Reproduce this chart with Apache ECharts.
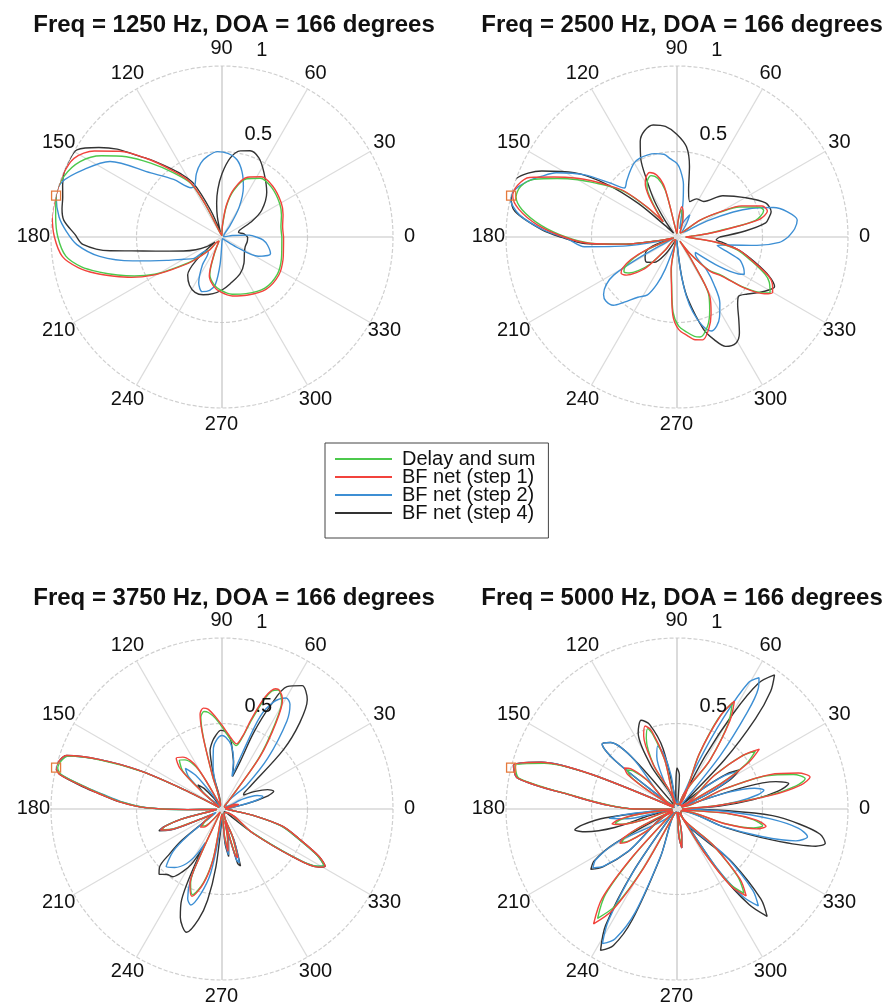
<!DOCTYPE html>
<html><head><meta charset="utf-8">
<script src="https://cdn.jsdelivr.net/npm/echarts@6/dist/echarts.min.js"></script>
<style>html,body{margin:0;padding:0;background:#fff}#c{width:888px;height:1008px}</style>
</head><body><div id="c"></div>
<script>
const seriesNames = ['Delay and sum','BF net (step 1)','BF net (step 2)','BF net (step 4)'];
const seriesColors = ['#4cc94c','#f2433c','#3d8fd4','#333333'];
const titles = ['Freq = 1250 Hz, DOA = 166 degrees','Freq = 2500 Hz, DOA = 166 degrees','Freq = 3750 Hz, DOA = 166 degrees','Freq = 5000 Hz, DOA = 166 degrees'];
const angleTicks = [0,30,60,90,120,150,180,210,240,270,300,330];
const radiusTicks = [0.5, 1];
const radiusTickLabels = ['0.5','1'];
const doaAngle = 166;

// [angle (deg), magnitude]
const c1Green = [[0,0.35],[10,0.35],[20,0.37],[30,0.39],[45,0.41],[57,0.41],[67,0.37],[76,0.28],[82,0.18],[88,0.06],[95,0.01],[105,0.01],[114,0.03],[117,0.2],[120,0.36],[127,0.47],[134,0.6],[140,0.73],[146,0.85],[152,0.94],[159,0.99],[166,1.0],[173,0.98],[180,0.96],[187,0.92],[192,0.84],[196,0.745],[200,0.65],[204,0.56],[209,0.45],[213,0.34],[219,0.22],[226,0.1],[233,0.03],[240,0.03],[245,0.1],[252,0.23],[260,0.28],[268,0.31],[280,0.34],[293,0.36],[310,0.39],[326,0.39],[340,0.37],[350,0.355],[360,0.35]];
const c1Red = [[0,0.36],[10,0.36],[20,0.38],[30,0.4],[45,0.42],[57,0.42],[67,0.38],[76,0.29],[82,0.19],[88,0.07],[95,0.01],[105,0.01],[114,0.03],[117,0.21],[120,0.37],[127,0.49],[134,0.64],[140,0.78],[146,0.9],[152,0.98],[159,1.0],[166,1.0],[173,1.0],[180,0.98],[187,0.94],[192,0.86],[196,0.77],[200,0.67],[204,0.58],[209,0.46],[213,0.35],[219,0.23],[226,0.11],[233,0.03],[240,0.03],[245,0.11],[252,0.24],[260,0.29],[268,0.32],[280,0.35],[293,0.37],[310,0.4],[326,0.4],[340,0.38],[350,0.365],[360,0.36]];
const c1Blue = [[0,0.2],[4,0.16],[8,0.06],[12,0.01],[30,0.01],[50,0.02],[55,0.08],[60,0.2],[67,0.32],[73,0.4],[79,0.46],[86,0.49],[93,0.5],[100,0.48],[106,0.45],[112,0.4],[118,0.34],[122,0.34],[130,0.44],[138,0.56],[146,0.79],[154,0.9],[161,0.99],[166,1.0],[173,0.96],[178,0.91],[183,0.85],[189,0.725],[195,0.54],[203,0.35],[210,0.26],[217,0.21],[222,0.12],[228,0.12],[235,0.2],[243,0.3],[250,0.34],[257,0.32],[262,0.28],[266,0.16],[272,0.02],[290,0.01],[305,0.01],[310,0.02],[325,0.1],[332,0.24],[341,0.3],[350,0.27],[356,0.24],[360,0.2]];
const c1Black = [[0,0.15],[8,0.13],[15,0.1],[21,0.11],[28,0.2],[34,0.28],[45,0.37],[57,0.45],[65,0.51],[72,0.53],[78,0.515],[84,0.465],[90,0.37],[95,0.28],[99,0.2],[103,0.12],[108,0.03],[113,0.17],[118,0.355],[123,0.44],[128,0.52],[133,0.62],[137,0.71],[140,0.8],[144,0.89],[149,0.99],[153,1.0],[157,1.0],[162,0.98],[166,0.96],[170,0.95],[174,0.93],[179,0.86],[183,0.815],[187,0.66],[190,0.47],[195,0.32],[200,0.24],[206,0.17],[212,0.11],[216,0.05],[222,0.2],[228,0.3],[236,0.34],[244,0.36],[252,0.355],[261,0.335],[270,0.31],[280,0.277],[296,0.24],[310,0.2],[325,0.16],[337,0.147],[350,0.15],[360,0.15]];

const c2Green = [[0,0.05],[3,0.08],[6,0.17],[9,0.28],[12,0.47],[17,0.53],[20,0.51],[25.7,0.405],[30,0.29],[36,0.166],[40,0.05],[50,0.03],[60,0.04],[70,0.09],[76,0.13],[81,0.16],[86,0.09],[92,0.02],[100,0.05],[104,0.28],[108,0.36],[113,0.39],[118,0.37],[121,0.34],[125,0.26],[129,0.17],[132,0.12],[135,0.24],[139,0.4],[143,0.49],[146,0.56],[150,0.67],[154,0.78],[158,0.9],[162,0.96],[166,0.97],[170,0.92],[175,0.8],[180,0.65],[184,0.51],[188,0.3],[191,0.12],[195,0.02],[200,0.05],[203,0.19],[206,0.28],[210,0.35],[213,0.37],[217,0.35],[221,0.3],[225,0.23],[228,0.1],[232,0.02],[245,0.02],[255,0.05],[260,0.19],[263,0.26],[267,0.44],[271,0.52],[276,0.56],[280,0.59],[283,0.6],[289,0.55],[294,0.47],[299,0.38],[302,0.17],[305,0.03],[308,0.12],[314,0.27],[319,0.34],[323,0.49],[327,0.6],[329,0.635],[334,0.6],[337,0.56],[342,0.46],[348,0.36],[352,0.24],[356,0.1],[360,0.05]];
const c2Red = [[0,0.05],[3,0.08],[6,0.18],[9,0.3],[12,0.49],[16,0.55],[20,0.53],[25.7,0.42],[30,0.3],[36,0.17],[40,0.05],[50,0.03],[60,0.04],[70,0.1],[76,0.15],[81,0.18],[86,0.1],[92,0.02],[100,0.05],[104,0.3],[108,0.38],[113,0.41],[118,0.39],[121,0.36],[125,0.28],[129,0.18],[132,0.12],[135,0.25],[139,0.41],[143,0.5],[146,0.58],[150,0.69],[154,0.8],[158,0.93],[162,0.98],[166,0.99],[170,0.94],[175,0.82],[180,0.66],[184,0.52],[188,0.3],[191,0.12],[195,0.02],[200,0.05],[203,0.2],[206,0.3],[210,0.37],[213,0.39],[217,0.37],[221,0.32],[225,0.25],[228,0.1],[232,0.02],[245,0.02],[255,0.05],[260,0.2],[263,0.27],[267,0.46],[271,0.54],[276,0.58],[280,0.61],[284,0.62],[289,0.57],[294,0.49],[299,0.395],[302,0.18],[305,0.03],[308,0.12],[314,0.28],[319,0.35],[323,0.5],[327,0.61],[330,0.646],[334,0.62],[337,0.58],[342,0.47],[348,0.37],[352,0.25],[356,0.1],[360,0.05]];
const c2Blue = [[0,0.65],[4,0.69],[8,0.71],[13,0.66],[17,0.59],[21,0.47],[24,0.36],[28,0.2],[33,0.06],[45,0.04],[55,0.1],[60,0.15],[66,0.1],[72,0.05],[77,0.1],[80,0.2],[83,0.31],[87,0.39],[90,0.43],[95,0.46],[99,0.49],[105,0.505],[110,0.51],[115,0.51],[120,0.5],[126,0.47],[132,0.44],[137,0.42],[141,0.5],[146,0.65],[152,0.8],[156,0.87],[160,0.94],[164,0.99],[167,1.0],[172,0.93],[177,0.78],[181,0.64],[186,0.545],[190,0.3],[194,0.1],[199,0.02],[205,0.05],[209,0.27],[211,0.43],[214,0.5],[218,0.545],[222,0.56],[227,0.546],[231,0.49],[237,0.42],[243,0.38],[247,0.3],[250,0.2],[254,0.05],[265,0.02],[272,0.05],[276,0.2],[279,0.35],[282,0.45],[286,0.54],[290,0.585],[294,0.57],[298,0.53],[303,0.46],[308,0.35],[312,0.26],[316,0.15],[320,0.14],[325,0.3],[329,0.42],[331,0.45],[335,0.43],[340,0.39],[344,0.3],[348,0.24],[351,0.3],[354,0.47],[357,0.6],[360,0.65]];
const c2Black = [[0,0.25],[5,0.4],[9,0.525],[12,0.55],[15,0.57],[21,0.555],[30,0.46],[42,0.36],[53,0.26],[63,0.25],[70,0.22],[76,0.28],[80,0.42],[84,0.53],[90,0.6],[96,0.65],[102,0.67],[107,0.65],[111,0.6],[115,0.5],[118,0.375],[122,0.25],[126,0.12],[131,0.03],[136,0.1],[139,0.3],[143,0.51],[148,0.71],[154,0.88],[160,1.0],[166,1.0],[171,0.96],[177,0.79],[180,0.68],[184,0.54],[188,0.3],[191,0.12],[195,0.03],[200,0.15],[205,0.2],[212,0.22],[220,0.23],[228,0.2],[236,0.12],[245,0.03],[260,0.02],[270,0.03],[274,0.1],[277,0.25],[280,0.37],[286,0.56],[290,0.64],[294,0.7],[299,0.71],[303,0.67],[307,0.6],[312,0.53],[316,0.5],[321,0.53],[326,0.58],[330,0.62],[333,0.64],[337,0.585],[342,0.48],[348,0.37],[353,0.27],[356,0.23],[360,0.25]];

const c3Green = [[0,0.02],[10,0.03],[15,0.09],[20,0.07],[25,0.02],[45,0.02],[50,0.05],[54,0.36],[58,0.58],[61,0.72],[64.7,0.77],[67,0.75],[69,0.68],[72,0.53],[74,0.44],[77.4,0.38],[83,0.41],[90,0.48],[94,0.53],[98,0.57],[100.5,0.58],[103,0.55],[104.6,0.43],[106,0.2],[108,0.03],[117,0.02],[121,0.27],[127,0.36],[131,0.38],[136,0.32],[139,0.16],[143,0.03],[151,0.02],[153,0.25],[155,0.52],[158,0.76],[161,0.95],[166,0.99],[168,0.96],[171,0.8],[173,0.71],[176,0.59],[179,0.44],[181,0.2],[184,0.03],[190,0.05],[194,0.24],[197,0.35],[199,0.37],[202,0.31],[205,0.14],[210,0.06],[215,0.11],[220,0.155],[225,0.14],[230,0.08],[236,0.02],[243,0.03],[245,0.29],[247,0.47],[251,0.53],[256,0.44],[260,0.29],[264,0.05],[272,0.03],[275,0.15],[278,0.24],[281,0.16],[283.5,0.07],[286,0.27],[288,0.29],[291,0.16],[294,0.03],[318,0.03],[322,0.22],[326,0.49],[329,0.65],[331,0.68],[334,0.62],[339,0.47],[344,0.36],[348,0.2],[353,0.05],[360,0.02]];
const c3Red = [[0,0.02],[10,0.03],[15,0.1],[20,0.08],[25,0.02],[45,0.02],[50,0.05],[54,0.38],[58,0.6],[61,0.73],[64,0.77],[66,0.77],[69,0.7],[72,0.55],[74,0.45],[77.4,0.39],[83,0.42],[90,0.49],[94,0.54],[98,0.59],[100.5,0.6],[103,0.57],[104.6,0.45],[106,0.2],[108,0.03],[117,0.02],[121,0.29],[127,0.38],[132,0.4],[136,0.34],[139,0.17],[143,0.03],[151,0.02],[153,0.25],[155,0.53],[158,0.77],[161,0.96],[166,1.0],[168,0.97],[171,0.81],[173,0.72],[176,0.6],[179,0.45],[181,0.2],[184,0.03],[190,0.05],[194,0.24],[197,0.35],[199,0.38],[202,0.32],[205,0.14],[210,0.06],[215,0.12],[220,0.165],[225,0.15],[230,0.08],[236,0.02],[243,0.03],[245,0.3],[247,0.48],[251,0.54],[256,0.45],[260,0.3],[264,0.05],[272,0.03],[275,0.15],[278,0.25],[281,0.17],[283.5,0.07],[286,0.28],[288,0.3],[291,0.17],[294,0.03],[318,0.03],[322,0.23],[326,0.5],[329,0.66],[331,0.69],[334,0.63],[339,0.48],[344,0.37],[348,0.2],[353,0.05],[360,0.02]];
const c3Blue = [[0,0.02],[8,0.02],[11,0.1],[14,0.2],[17,0.25],[21,0.22],[26,0.12],[31,0.03],[40,0.03],[44,0.2],[48,0.4],[53.6,0.64],[57,0.73],[60,0.75],[64,0.7],[67.6,0.585],[70,0.35],[73,0.2],[77,0.3],[82,0.38],[87,0.42],[90,0.43],[94,0.41],[98,0.36],[102,0.25],[106,0.05],[118,0.02],[124,0.1],[128,0.25],[132,0.32],[136,0.27],[140,0.12],[144,0.02],[151,0.02],[153,0.25],[155,0.53],[158,0.77],[161,0.95],[166,1.0],[168,0.96],[171,0.8],[173,0.7],[176,0.58],[179,0.44],[181,0.2],[184,0.03],[190,0.05],[194,0.24],[197,0.35],[199,0.38],[202,0.32],[205,0.14],[210,0.04],[215,0.08],[218,0.25],[221,0.38],[226,0.47],[231,0.44],[237,0.38],[241,0.3],[243.5,0.22],[246,0.45],[249,0.56],[252,0.59],[256,0.51],[260,0.38],[264,0.15],[268,0.04],[272,0.03],[275,0.18],[278,0.27],[281,0.19],[283.5,0.08],[286,0.31],[288,0.33],[291,0.19],[294,0.03],[318,0.03],[322,0.22],[326,0.49],[329,0.65],[331,0.68],[334,0.62],[339,0.47],[344,0.36],[348,0.2],[353,0.05],[360,0.02]];
const c3Black = [[0,0.02],[8,0.02],[12,0.15],[16,0.28],[19,0.32],[23,0.29],[28,0.22],[33,0.15],[36,0.16],[39,0.22],[44,0.5],[48,0.68],[52,0.81],[57,0.86],[62,0.81],[65,0.66],[67.5,0.48],[69,0.3],[72,0.2],[76,0.28],[78,0.31],[83,0.41],[88,0.455],[91,0.46],[95,0.43],[98,0.4],[101.5,0.35],[104,0.2],[107,0.03],[120,0.02],[127,0.08],[131,0.16],[135,0.2],[139,0.14],[143,0.03],[150,0.02],[153,0.25],[155,0.53],[158,0.77],[161,0.96],[166,1.0],[168,0.97],[171,0.82],[173,0.72],[176,0.6],[179,0.45],[181,0.2],[184,0.03],[190,0.05],[194,0.25],[197,0.36],[199,0.39],[202,0.33],[205,0.15],[210,0.05],[215,0.1],[218,0.3],[220.5,0.4],[223,0.5],[226,0.53],[230,0.5],[234,0.49],[238,0.43],[241,0.37],[243.5,0.26],[246,0.58],[249,0.68],[254,0.75],[258,0.66],[261,0.54],[264,0.34],[268,0.08],[272,0.03],[275,0.2],[278,0.28],[281,0.2],[283.5,0.08],[286,0.33],[288,0.35],[291,0.2],[294,0.03],[310,0.02],[318,0.03],[322,0.23],[326,0.5],[329,0.66],[331,0.69],[334,0.63],[339,0.48],[344,0.37],[348,0.2],[353,0.05],[360,0.02]];

const c4Green = [[0,0.03],[2,0.03],[5,0.24],[8.3,0.54],[11,0.71],[13.3,0.77],[16.5,0.71],[20.3,0.56],[23,0.29],[25,0.03],[27,0.03],[30,0.29],[33,0.48],[36.5,0.57],[39.5,0.48],[42,0.29],[45,0.03],[53,0.03],[56,0.34],[59,0.58],[62.5,0.7],[65.5,0.58],[68,0.34],[71,0.03],[100,0.03],[104,0.29],[108,0.46],[110,0.5],[113.5,0.45],[118,0.29],[122,0.03],[133,0.03],[136,0.24],[139,0.34],[142,0.37],[145,0.33],[147.5,0.19],[150,0.03],[156,0.02],[158,0.54],[161,0.82],[165,0.98],[169,0.94],[173,0.59],[177,0.39],[180,0.25],[182,0.03],[185,0.03],[188,0.24],[190.5,0.33],[193,0.37],[195.5,0.33],[198,0.19],[201,0.03],[203,0.03],[206,0.24],[208.5,0.34],[211,0.38],[213.5,0.34],[216,0.21],[219,0.03],[224,0.03],[227,0.36],[230,0.65],[234,0.79],[237.5,0.67],[240.5,0.38],[244,0.03],[270,0.02],[274,0.15],[277,0.22],[280,0.15],[284,0.02],[299,0.03],[302,0.29],[305,0.53],[308.5,0.63],[312,0.53],[315,0.29],[318,0.03],[340,0.03],[343,0.29],[346,0.46],[349,0.51],[352,0.45],[355,0.29],[358,0.03],[360,0.03]];
const c4Red = [[0,0.03],[2,0.03],[5,0.25],[8.3,0.56],[11,0.74],[13.5,0.8],[16.5,0.74],[20.3,0.58],[23,0.3],[25,0.03],[27,0.03],[30,0.3],[33,0.5],[36,0.595],[39,0.5],[42,0.3],[45,0.03],[53,0.03],[56,0.35],[59,0.6],[62,0.715],[65,0.6],[68,0.35],[71,0.03],[100,0.03],[104,0.3],[108,0.48],[111,0.52],[114.5,0.47],[118,0.3],[122,0.03],[133,0.03],[136,0.25],[139,0.36],[142,0.39],[145,0.35],[147.5,0.2],[150,0.03],[156,0.02],[158,0.55],[161,0.84],[165,0.99],[169,0.95],[173,0.6],[177,0.4],[180,0.25],[182,0.03],[185,0.03],[188,0.25],[190.5,0.35],[193,0.39],[195.5,0.34],[198,0.2],[201,0.03],[203,0.03],[206,0.25],[208.5,0.36],[211,0.39],[213.5,0.35],[216,0.22],[219,0.03],[224,0.03],[227,0.38],[230,0.68],[234,0.83],[237.5,0.7],[240.5,0.4],[244,0.03],[270,0.02],[274,0.16],[277,0.23],[280,0.16],[284,0.02],[299,0.03],[302,0.3],[305,0.55],[308.5,0.65],[312,0.55],[315,0.3],[318,0.03],[340,0.03],[343,0.3],[346,0.48],[349,0.53],[352,0.47],[355,0.3],[358,0.03],[360,0.03]];
const c4Blue = [[0,0.03],[4,0.2],[7,0.36],[10,0.48],[12.2,0.52],[15,0.47],[18,0.32],[22,0.03],[26,0.2],[29,0.34],[32,0.41],[35,0.34],[38,0.19],[42,0.03],[48,0.03],[51,0.4],[54,0.7],[56,0.85],[58,0.905],[60.5,0.85],[63,0.6],[65.5,0.3],[68,0.03],[80,0.02],[88,0.05],[96,0.03],[100,0.2],[103.5,0.33],[107,0.385],[111,0.33],[115,0.18],[119,0.03],[128,0.03],[131,0.4],[135,0.55],[139,0.58],[142,0.46],[145,0.1],[149,0.02],[156,0.02],[158,0.55],[161,0.84],[165,0.99],[169,0.95],[173,0.6],[177,0.4],[180,0.25],[182,0.03],[184,0.03],[186,0.3],[188,0.4],[191,0.3],[195,0.03],[205,0.03],[209,0.41],[212,0.56],[215,0.6],[218,0.54],[221,0.37],[225,0.03],[232,0.03],[235,0.43],[238.5,0.77],[241,0.9],[244.5,0.84],[248,0.65],[251,0.28],[254,0.02],[270,0.02],[274,0.16],[277,0.23],[280,0.16],[284,0.02],[300,0.03],[304,0.42],[307,0.64],[310,0.74],[313,0.65],[316,0.4],[320,0.03],[336,0.03],[339,0.28],[342,0.52],[345,0.72],[348,0.78],[351,0.72],[354,0.55],[357,0.3],[360,0.03]];
const c4Black = [[0,0.03],[4,0.25],[7,0.45],[10,0.6],[12.8,0.67],[15.5,0.6],[18,0.42],[22,0.03],[26,0.2],[29,0.36],[32,0.43],[35,0.36],[38,0.2],[42,0.03],[46,0.4],[49,0.7],[51.5,0.88],[54,0.97],[57,0.88],[59.5,0.65],[62,0.35],[65,0.03],[80,0.02],[86,0.2],[90,0.24],[94,0.1],[98,0.03],[103,0.36],[108,0.52],[112,0.56],[117,0.5],[121,0.3],[126,0.03],[128,0.03],[131,0.4],[135,0.55],[139,0.58],[142,0.46],[145,0.1],[149,0.02],[156,0.02],[158,0.55],[161,0.84],[165,0.99],[169,0.95],[173,0.6],[177,0.4],[180,0.25],[182,0.03],[184,0.03],[187,0.42],[189.5,0.56],[191.5,0.61],[194,0.55],[196.5,0.38],[200,0.03],[205,0.03],[209,0.42],[212,0.57],[215,0.615],[218,0.55],[221,0.38],[225,0.03],[232,0.03],[235,0.45],[238.5,0.8],[241.6,0.94],[245,0.88],[248,0.7],[251,0.3],[254,0.02],[270,0.02],[274,0.16],[277,0.23],[280,0.16],[284,0.02],[300,0.03],[304,0.45],[307,0.7],[310,0.82],[313,0.72],[316,0.45],[320,0.03],[336,0.03],[339,0.3],[342,0.59],[345,0.84],[347,0.89],[350,0.85],[353,0.72],[356,0.56],[358,0.3],[360,0.03]];

const chartData = [
  [c1Green, c1Red, c1Blue, c1Black],
  [c2Green, c2Red, c2Blue, c2Black],
  [c3Green, c3Red, c3Blue, c3Black],
  [c4Green, c4Red, c4Blue, c4Black]
];

const FONT = "'Liberation Sans', Arial, Helvetica, sans-serif";
const centers = [[222,237],[677,237],[222,809],[677,809]];
const R = 171;
const labelRadius = 1.1;
const titleX = [234, 682];
const titleY = [13, 586];
const zOrder = [4,5,3,2];

const series = [];
chartData.forEach((sets, ci) => {
  sets.forEach((arr, si) => {
    series.push({
      type:'line', name: seriesNames[si], coordinateSystem:'polar', polarIndex: ci,
      data: arr.map(p => [p[1], p[0]]),
      symbol:'none', showSymbol:false, smooth:0.3, silent:true, z: zOrder[si], clip:false,
      lineStyle:{width:1.4, color: seriesColors[si]},
      itemStyle:{color: seriesColors[si]}
    });
  });
  series.push({
    type:'scatter', coordinateSystem:'polar', polarIndex: ci, silent:true, z:6, clip:false,
    symbolSize:1, itemStyle:{color:'rgba(0,0,0,0)', opacity:1},
    data: angleTicks.map(a => ({value:[labelRadius, a], name:String(a)})),
    label:{show:true, position:[0,0], align:'center', verticalAlign:'middle', formatter:'{b}', fontSize:20, color:'#111', opacity:1, fontFamily:FONT}
  });
  series.push({
    type:'scatter', coordinateSystem:'polar', polarIndex: ci, silent:true, z:6, clip:false,
    symbolSize:1, itemStyle:{color:'rgba(0,0,0,0)', opacity:1},
    data: radiusTicks.map((r,k) => ({value:[r, 82], name: radiusTickLabels[k]})),
    label:{show:true, position:[11,-17], align:'left', verticalAlign:'middle', formatter:'{b}', fontSize:20, color:'#111', opacity:1, fontFamily:FONT}
  });
  series.push({
    type:'scatter', coordinateSystem:'polar', polarIndex: ci, silent:true, z:7, clip:false,
    symbol:'rect', symbolSize:9,
    itemStyle:{color:'rgba(0,0,0,0)', borderColor:'#e57a3c', borderWidth:1.3, opacity:1},
    data:[[1, doaAngle]]
  });
});

const option = {
  animation:false,
  backgroundColor:'#fff',
  title: titles.map((t,i) => ({
    text:t, left: titleX[i%2], top: titleY[Math.floor(i/2)], textAlign:'center', padding:0,
    textStyle:{fontSize:24, fontWeight:'bold', fontFamily:FONT, color:'#111'}
  })),
  legend: {
    data: seriesNames, orient:'vertical', left:325, top:443, padding:[6,13,15,10],
    itemGap:-2, itemWidth:57, itemHeight:2, icon:'rect', selectedMode:false,
    borderColor:'#444', borderWidth:1, backgroundColor:'#fff',
    textStyle:{fontSize:20, fontFamily:FONT, color:'#111', padding:[0,0,0,5]}
  },
  polar: centers.map(c => ({center:c, radius:R})),
  angleAxis: centers.map((c,i) => ({
    polarIndex:i, type:'value', min:0, max:360, interval:30, startAngle:0, clockwise:false,
    axisLine:{show:false}, axisTick:{show:false}, axisLabel:{show:false},
    splitLine:{show:true, lineStyle:{color:['#c4c4c4','#dcdcdc','#dcdcdc'], width:1.2}}
  })),
  radiusAxis: centers.map((c,i) => ({
    polarIndex:i, type:'value', min:0, max:1, interval:0.5,
    axisLine:{show:false}, axisTick:{show:false}, axisLabel:{show:false},
    splitLine:{show:true, lineStyle:{color:'#cfcfcf', type:[4,2], width:1.2}}
  })),
  series: series
};
const chart = echarts.init(document.getElementById('c'), null, {renderer:'canvas'});
chart.setOption(option);
</script>
</body></html>
